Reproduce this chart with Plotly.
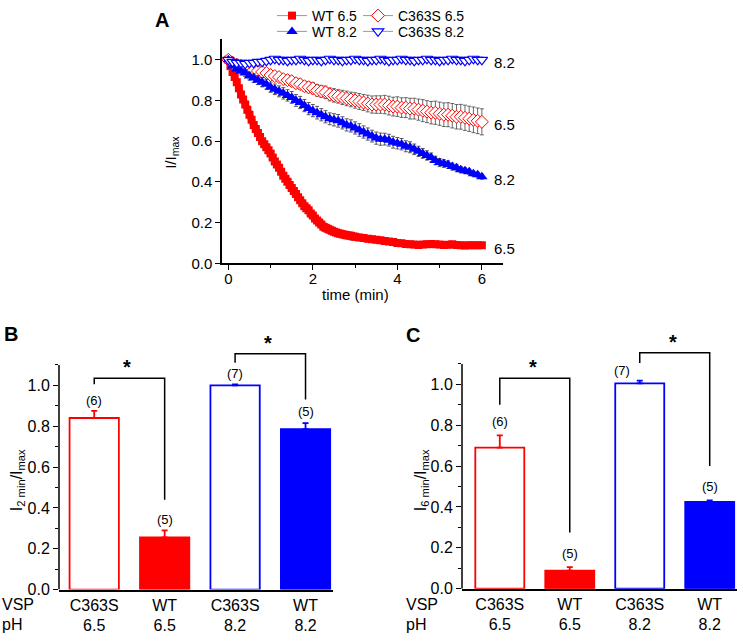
import plotly.graph_objects as go

# ---- panel A: time course (min) ----
TIME = [0.0, 0.1, 0.2, 0.3, 0.4, 0.5, 0.6, 0.7, 0.8, 0.9,
        1.0, 1.1, 1.2, 1.3, 1.4, 1.5, 1.6, 1.7, 1.8, 1.9,
        2.0, 2.1, 2.2, 2.3, 2.4, 2.5, 2.6, 2.7, 2.8, 2.9,
        3.0, 3.1, 3.2, 3.3, 3.4, 3.5, 3.6, 3.7, 3.8, 3.9,
        4.0, 4.1, 4.2, 4.3, 4.4, 4.5, 4.6, 4.7, 4.8, 4.9,
        5.0, 5.1, 5.2, 5.3, 5.4, 5.5, 5.6, 5.7, 5.8, 5.9, 6.0]

# WT at pH 6.5 falls fast, so it is read more finely over the first 3 min
TIME_WT65 = [0.0, 0.05, 0.1, 0.15, 0.2, 0.25, 0.3, 0.35, 0.4, 0.45,
             0.5, 0.55, 0.6, 0.65, 0.7, 0.75, 0.8, 0.85, 0.9, 0.95,
             1.0, 1.05, 1.1, 1.15, 1.2, 1.25, 1.3, 1.35, 1.4, 1.45,
             1.5, 1.55, 1.6, 1.65, 1.7, 1.75, 1.8, 1.85, 1.9, 1.95,
             2.0, 2.05, 2.1, 2.15, 2.2, 2.25, 2.3, 2.35, 2.4, 2.45,
             2.5, 2.55, 2.6, 2.65, 2.7, 2.75, 2.8, 2.85, 2.9, 2.95,
             3.0, 3.1, 3.2, 3.3, 3.4, 3.5, 3.6, 3.7, 3.8, 3.9,
             4.0, 4.1, 4.2, 4.3, 4.4, 4.5, 4.6, 4.7, 4.8, 4.9,
             5.0, 5.1, 5.2, 5.3, 5.4, 5.5, 5.6, 5.7, 5.8, 5.9, 6.0]
WT65 = [1.00, 0.97, 0.94, 0.915, 0.89, 0.86, 0.83, 0.805, 0.78, 0.755,
        0.73, 0.705, 0.68, 0.66, 0.64, 0.62, 0.60, 0.585, 0.57, 0.555,
        0.54, 0.52, 0.50, 0.485, 0.47, 0.45, 0.43, 0.415, 0.40, 0.385,
        0.37, 0.355, 0.34, 0.325, 0.31, 0.295, 0.28, 0.27, 0.26, 0.245,
        0.235, 0.22, 0.21, 0.20, 0.19, 0.18, 0.175, 0.17, 0.165, 0.16,
        0.155, 0.151, 0.148, 0.145, 0.143, 0.14, 0.138, 0.137, 0.135, 0.132,
        0.130, 0.127, 0.124, 0.120, 0.118, 0.115, 0.113, 0.110, 0.107, 0.104,
        0.100, 0.098, 0.095, 0.093, 0.092, 0.090, 0.092, 0.094, 0.095, 0.094,
        0.092, 0.090, 0.091, 0.093, 0.090, 0.088, 0.087, 0.088, 0.089, 0.088, 0.088]
WT65_ERR = [0.003, 0.007, 0.010, 0.013, 0.015, 0.017, 0.018, 0.019, 0.020, 0.021,
            0.022, 0.023, 0.024, 0.024, 0.025, 0.025, 0.026, 0.026, 0.027, 0.027,
            0.028, 0.028, 0.028, 0.028, 0.028, 0.027, 0.027, 0.027, 0.027, 0.026,
            0.026, 0.026, 0.026, 0.025, 0.025, 0.025, 0.024, 0.024, 0.024, 0.023,
            0.023, 0.022, 0.022, 0.021, 0.021, 0.020, 0.020, 0.019, 0.019, 0.018,
            0.018, 0.018, 0.018, 0.017, 0.017, 0.017, 0.017, 0.016, 0.016, 0.016,
            0.016, 0.016, 0.015, 0.015, 0.015, 0.015, 0.014, 0.014, 0.014, 0.014,
            0.014, 0.014, 0.013, 0.013, 0.013, 0.013, 0.013, 0.013, 0.013, 0.013,
            0.013, 0.013, 0.013, 0.013, 0.013, 0.013, 0.013, 0.013, 0.013, 0.013, 0.013]

C65 = [1.00, 0.985, 0.975, 0.97, 0.965, 0.955, 0.95, 0.945, 0.94, 0.935,
       0.925, 0.92, 0.915, 0.905, 0.90, 0.895, 0.885, 0.88, 0.87, 0.865,
       0.86, 0.85, 0.845, 0.84, 0.83, 0.825, 0.82, 0.815, 0.81, 0.805,
       0.80, 0.795, 0.79, 0.785, 0.78, 0.78, 0.78, 0.78, 0.775, 0.77,
       0.77, 0.765, 0.765, 0.76, 0.76, 0.755, 0.75, 0.745, 0.74, 0.74,
       0.735, 0.73, 0.73, 0.725, 0.72, 0.72, 0.715, 0.71, 0.705, 0.70, 0.695]
C65_ERR = [0.002, 0.006, 0.008, 0.010, 0.012, 0.012, 0.014, 0.015, 0.015, 0.017,
           0.018, 0.018, 0.020, 0.021, 0.021, 0.023, 0.024, 0.025, 0.025, 0.027,
           0.028, 0.029, 0.029, 0.031, 0.032, 0.033, 0.033, 0.035, 0.036, 0.036,
           0.038, 0.039, 0.039, 0.041, 0.042, 0.043, 0.043, 0.045, 0.046, 0.046,
           0.048, 0.048, 0.049, 0.051, 0.051, 0.052, 0.054, 0.054, 0.055, 0.057,
           0.057, 0.058, 0.059, 0.060, 0.060, 0.061, 0.062, 0.062, 0.063, 0.063, 0.064]

WT82 = [1.00, 0.97, 0.955, 0.945, 0.935, 0.92, 0.91, 0.90, 0.89, 0.88,
        0.865, 0.855, 0.845, 0.835, 0.825, 0.815, 0.80, 0.79, 0.775, 0.76,
        0.75, 0.74, 0.73, 0.72, 0.71, 0.705, 0.70, 0.69, 0.68, 0.675,
        0.665, 0.655, 0.645, 0.635, 0.625, 0.615, 0.61, 0.61, 0.605, 0.595,
        0.59, 0.585, 0.575, 0.57, 0.56, 0.55, 0.54, 0.53, 0.52, 0.505,
        0.495, 0.49, 0.485, 0.475, 0.47, 0.46, 0.455, 0.45, 0.44, 0.435, 0.425]
WT82_ERR = [0.003, 0.008, 0.012, 0.015, 0.017, 0.019, 0.021, 0.022, 0.023, 0.024,
            0.025, 0.026, 0.027, 0.028, 0.028, 0.029, 0.029, 0.030, 0.030, 0.030,
            0.030, 0.031, 0.030, 0.030, 0.029, 0.030, 0.031, 0.030, 0.030, 0.030,
            0.030, 0.031, 0.030, 0.030, 0.029, 0.030, 0.030, 0.029, 0.029, 0.029,
            0.028, 0.028, 0.027, 0.027, 0.026, 0.025, 0.024, 0.023, 0.022, 0.021,
            0.020, 0.019, 0.018, 0.017, 0.016, 0.015, 0.014, 0.013, 0.012, 0.012, 0.012]

C82 = [1.00, 0.99, 0.985, 0.985, 0.98, 0.985, 0.985, 0.99, 0.99, 0.995,
       1.00, 1.005, 1.00, 1.00, 0.995, 1.00, 1.00, 1.005, 1.00, 0.995,
       1.00, 1.00, 0.995, 1.00, 1.005, 1.00, 1.00, 0.995, 1.00, 1.00,
       1.005, 1.00, 1.00, 0.995, 1.00, 1.00, 1.005, 1.00, 0.995, 1.00,
       1.00, 1.005, 1.00, 1.00, 0.995, 1.00, 1.00, 1.005, 1.00, 1.00,
       0.995, 1.00, 1.00, 1.005, 1.00, 1.00, 0.995, 1.00, 1.005, 1.00, 1.00]
C82_ERR = [0.002, 0.008, 0.010, 0.011, 0.012, 0.011, 0.012, 0.011, 0.010, 0.010,
           0.009, 0.010, 0.009, 0.010, 0.009, 0.008, 0.009, 0.010, 0.009, 0.008,
           0.009, 0.008, 0.009, 0.010, 0.009, 0.008, 0.009, 0.008, 0.009, 0.010,
           0.009, 0.008, 0.009, 0.008, 0.009, 0.010, 0.009, 0.008, 0.009, 0.008,
           0.009, 0.010, 0.009, 0.008, 0.009, 0.008, 0.009, 0.010, 0.009, 0.008,
           0.009, 0.008, 0.009, 0.010, 0.009, 0.008, 0.009, 0.008, 0.009, 0.008, 0.008]

# ---- panels B and C: bars ----
VSP = ["C363S", "WT", "C363S", "WT"]
PH = ["6.5", "6.5", "8.2", "8.2"]
B_MEAN = [0.84, 0.255, 1.0, 0.785]
B_ERR = [0.035, 0.035, 0.005, 0.03]
B_N = ["(6)", "(5)", "(7)", "(5)"]
C_MEAN = [0.69, 0.088, 1.005, 0.425]
C_ERR = [0.06, 0.017, 0.013, 0.007]
C_N = ["(6)", "(5)", "(7)", "(5)"]
# significance brackets: (left idx, right idx, left foot, top, right foot)
B_BRACKETS = [(0, 1, 1.005, 1.035, 0.44), (2, 3, 1.11, 1.155, 0.93)]
C_BRACKETS = [(0, 1, 0.90, 1.03, 0.275), (2, 3, 1.105, 1.155, 0.60)]

RED = "#ff0000"
BLUE = "#0000ff"
FONT = "Arial, Liberation Sans, sans-serif"
W, H = 745, 642

fig = go.Figure()

# name, x, y, err, marker, error colour, legend id, legend box (text start px, top px)
series = [
    ("WT 6.5", TIME_WT65, WT65, WT65_ERR,
     dict(symbol="square", size=8, color=RED, line=dict(width=0)), "#333333", "legend", 312, 0),
    ("C363S 6.5", TIME, C65, C65_ERR,
     dict(symbol="diamond", size=10, color="white", line=dict(color=RED, width=1)), "#444444",
     "legend2", 398, 0),
    ("WT 8.2", TIME, WT82, WT82_ERR,
     dict(symbol="triangle-up", size=10, color=BLUE, line=dict(width=0)), "#333333", "legend3", 312, 16),
    ("C363S 8.2", TIME, C82, C82_ERR,
     dict(symbol="triangle-down", size=10, color="white", line=dict(color=BLUE, width=1.2)), "#1a1a4a",
     "legend4", 398, 16),
]
legends = {}
for name, xs, ys, err, mk, ecol, lg, tx, ty in series:
    fig.add_trace(go.Scatter(
        x=xs, y=ys, name=name, mode="lines+markers", legend=lg,
        marker=mk, line=dict(color="#999999", width=1),
        error_y=dict(type="data", array=err, color=ecol, thickness=0.8, width=2),
        xaxis="x", yaxis="y"))
    legends[lg] = dict(x=(tx - 40) / W, y=1 - ty / H, xanchor="left", yanchor="top",
                       font=dict(size=14), bgcolor="rgba(0,0,0,0)", itemwidth=30)

# end-of-curve pH labels
for ys, lab in [(C82, "8.2"), (C65, "6.5"), (WT82, "8.2"), (WT65, "6.5")]:
    fig.add_annotation(x=6.25, y=ys[-1], xref="x", yref="y", text=lab, showarrow=False,
                       xanchor="left", yanchor="middle", yshift=-3, font=dict(size=15))


def bar_panel(xa, ya, means, errs, ns, brackets, nshift, n_xshift):
    for i in range(len(means)):
        col = RED if PH[i] == "6.5" else BLUE
        filled = VSP[i] == "WT"
        fig.add_trace(go.Bar(
            x=[i], y=[means[i]], width=0.7, showlegend=False,
            marker=dict(color=col if filled else "white", line=dict(color=col, width=1.8)),
            error_y=dict(type="data", array=[errs[i]], arrayminus=[0], symmetric=False,
                         color=col, thickness=1.8, width=3),
            xaxis=xa, yaxis=ya))
        fig.add_annotation(x=i, y=means[i] + errs[i], xref=xa, yref=ya, text=ns[i],
                           showarrow=False, yanchor="bottom", yshift=nshift[i],
                           xshift=n_xshift[i], font=dict(size=13))
    for l, r, yl, yt, yr in brackets:
        fig.add_trace(go.Scatter(
            x=[l, l, r, r], y=[yl, yt, yt, yr], mode="lines", showlegend=False,
            line=dict(color="black", width=1.5), xaxis=xa, yaxis=ya, hoverinfo="skip"))
        fig.add_annotation(x=(l + r) / 2, y=yt, xref=xa, yref=ya, text="<b>*</b>",
                           showarrow=False, yanchor="middle", yshift=11, xshift=-2,
                           font=dict(size=20))
    # visible y axis line stops at 1.1 like the original
    fig.add_shape(type="line", xref=xa + " domain", yref=ya, x0=0, x1=0, y0=0, y1=1.1,
                  line=dict(color="black", width=1.5))


bar_panel("x2", "y2", B_MEAN, B_ERR, B_N, B_BRACKETS, [1, 1, 1, 2], [0, 0, 0, 0])
bar_panel("x3", "y3", C_MEAN, C_ERR, C_N, C_BRACKETS, [4, 4, 1, 4], [0, 0, -18, 0])

cat_text = [f"{v}<br>{p}" for v, p in zip(VSP, PH)]
axis_common = dict(showline=True, linecolor="black", linewidth=1.5, mirror=False,
                   showgrid=False, zeroline=False, ticks="outside", tickcolor="black",
                   tickwidth=1.2, ticklen=5)
bar_y = dict(showline=False, showgrid=False, zeroline=False, ticks="outside",
             tickcolor="black", tickwidth=1.2, ticklen=5,
             tickvals=[0, 0.2, 0.4, 0.6, 0.8, 1.0], tickformat=".1f", tickfont=dict(size=16),
             minor=dict(tickvals=[0.1, 0.3, 0.5, 0.7, 0.9, 1.1], ticks="outside", ticklen=3,
                        tickcolor="black"))
bar_x = dict(tickvals=[0, 1, 2, 3], ticktext=cat_text, showline=True, linecolor="black",
             linewidth=1.5, showgrid=False, zeroline=False, ticks="",
             tickfont=dict(size=16))

fig.update_layout(
    width=W, height=H, margin=dict(l=0, r=0, t=0, b=0),
    plot_bgcolor="white", paper_bgcolor="white",
    font=dict(family=FONT, size=15, color="black"),
    barmode="overlay",
    xaxis=dict(domain=[222 / W, 503 / W], range=[-0.15, 6.5], anchor="y",
               tickvals=[0, 2, 4, 6], minor=dict(tickvals=[1, 3, 5], ticks="outside", ticklen=3,
                                                tickcolor="black"),
               ticklabelstandoff=-4, tickfont=dict(size=15), **axis_common),
    yaxis=dict(domain=[1 - 267 / H, 1 - 40 / H], range=[0, 1.1], anchor="x",
               tickvals=[0, 0.2, 0.4, 0.6, 0.8, 1.0], tickformat=".1f",
               tickfont=dict(size=15), **axis_common),
    xaxis2=dict(domain=[59 / W, 333 / W], range=[-0.5, 3.39], anchor="y2", **bar_x),
    yaxis2=dict(domain=[1 - 598 / H, 1 - 339 / H], range=[0, 1.25], anchor="x2", **bar_y),
    xaxis3=dict(domain=[462 / W, 737 / W], range=[-0.54, 3.39], anchor="y3", **bar_x),
    yaxis3=dict(domain=[1 - 597 / H, 1 - 338 / H], range=[0, 1.25], anchor="x3", **bar_y),
    **legends,
)

# panel letters, axis titles and row labels
texts = [
    ("<b>A</b>", 153, 20, 20, 0, "left"),
    ("<b>B</b>", 2, 339, 20, 0, "left"),
    ("<b>C</b>", 404, 340, 20, 0, "left"),
    ("I/I<sub>max</sub>", 172, 155, 15, -90, "center"),
    ("time (min)", 355, 299, 15, 0, "center"),
    ("I<sub>2 min</sub>/I<sub>max</sub>", 17, 487, 16, -90, "center"),
    ("I<sub>6 min</sub>/I<sub>max</sub>", 421, 487, 16, -90, "center"),
    ("VSP", 0, 613, 16, 0, "left"),
    ("pH", 0, 633, 16, 0, "left"),
    ("VSP", 404, 613, 16, 0, "left"),
    ("pH", 404, 633, 16, 0, "left"),
]
for txt, px, py, fs, ang, xa in texts:
    fig.add_annotation(x=px / W, y=1 - py / H, xref="paper", yref="paper", text=txt,
                       showarrow=False, xanchor=xa, yanchor="middle", textangle=ang,
                       font=dict(size=fs))

# page body margin would otherwise shift the figure by 8 px
fig.write_html("out.html", config={"displayModeBar": False},
               post_script="document.body.style.margin='0px';")
